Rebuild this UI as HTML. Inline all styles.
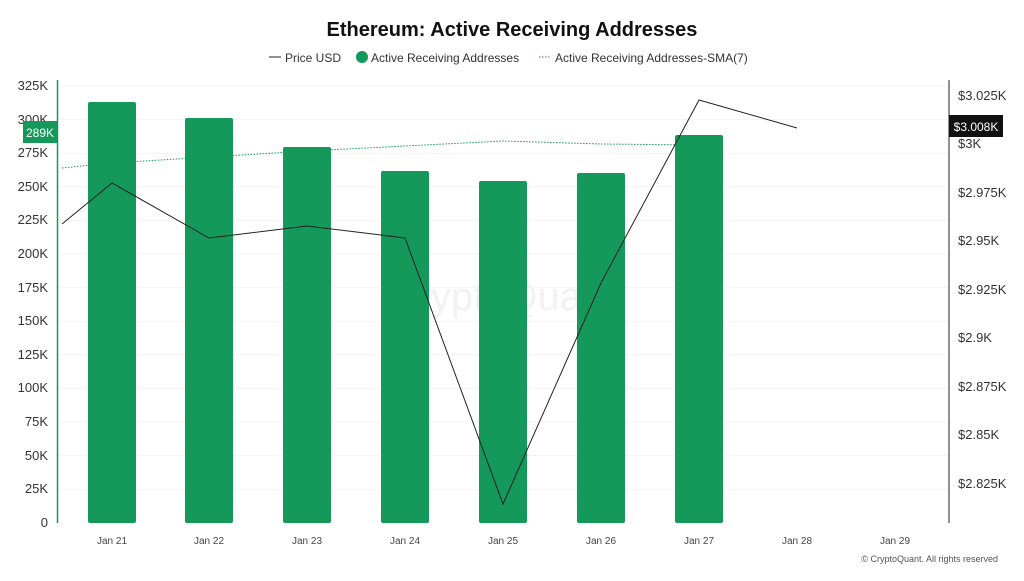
<!DOCTYPE html><html><head><style>body{margin:0;background:#fff;font-family:"Liberation Sans",sans-serif}</style></head><body>
<svg width="1024" height="576" xmlns="http://www.w3.org/2000/svg" font-family="Liberation Sans, sans-serif">
<rect width="1024" height="576" fill="#fff"/>
<text x="512" y="36" text-anchor="middle" font-size="20" font-weight="bold" fill="#111">Ethereum: Active Receiving Addresses</text>
<g font-size="12" fill="#333">
<line x1="269" y1="57" x2="281" y2="57" stroke="#222"/><text x="285" y="62">Price USD</text>
<circle cx="362" cy="57" r="6" fill="#14995b"/><text x="371" y="62">Active Receiving Addresses</text>
<line x1="539" y1="57" x2="551" y2="57" stroke="#14995b" stroke-dasharray="1.5,1.5"/><text x="555" y="62">Active Receiving Addresses-SMA(7)</text>
</g>
<g stroke="#f3f3f3">
<line x1="58" x2="948" y1="86" y2="86"/><line x1="58" x2="948" y1="119.6" y2="119.6"/><line x1="58" x2="948" y1="153.2" y2="153.2"/><line x1="58" x2="948" y1="186.8" y2="186.8"/><line x1="58" x2="948" y1="220.4" y2="220.4"/><line x1="58" x2="948" y1="254" y2="254"/><line x1="58" x2="948" y1="287.6" y2="287.6"/><line x1="58" x2="948" y1="321.2" y2="321.2"/><line x1="58" x2="948" y1="354.8" y2="354.8"/><line x1="58" x2="948" y1="388.4" y2="388.4"/><line x1="58" x2="948" y1="422" y2="422"/><line x1="58" x2="948" y1="455.6" y2="455.6"/><line x1="58" x2="948" y1="489.2" y2="489.2"/>
</g>
<text x="502" y="310" text-anchor="middle" font-size="40" fill="#f2f2f2">CryptoQuant</text>
<g font-size="13" fill="#333" text-anchor="end">
<text x="48" y="90">325K</text><text x="48" y="124">300K</text><text x="48" y="157">275K</text><text x="48" y="191">250K</text><text x="48" y="224">225K</text><text x="48" y="258">200K</text><text x="48" y="292">175K</text><text x="48" y="325">150K</text><text x="48" y="359">125K</text><text x="48" y="392">100K</text><text x="48" y="426">75K</text><text x="48" y="460">50K</text><text x="48" y="493">25K</text><text x="48" y="527">0</text>
</g>
<g font-size="13" fill="#333">
<text x="958" y="100">$3.025K</text><text x="958" y="148">$3K</text><text x="958" y="197">$2.975K</text><text x="958" y="245">$2.95K</text><text x="958" y="294">$2.925K</text><text x="958" y="342">$2.9K</text><text x="958" y="391">$2.875K</text><text x="958" y="439">$2.85K</text><text x="958" y="488">$2.825K</text>
</g>
<g fill="#14995b">
<rect x="88" y="102" width="48" height="421" rx="2"/><rect x="185" y="118" width="48" height="405" rx="2"/><rect x="283" y="147" width="48" height="376" rx="2"/><rect x="381" y="171" width="48" height="352" rx="2"/><rect x="479" y="181" width="48" height="342" rx="2"/><rect x="577" y="173" width="48" height="350" rx="2"/><rect x="675" y="135" width="48" height="388" rx="2"/>
</g>
<polyline fill="none" stroke="#14995b" stroke-width="1" stroke-dasharray="1.5,1.5" points="62,168 112,163 209,157 307,151 405,146 503,141 601,144 699,145"/>
<polyline fill="none" stroke="#222" stroke-width="1" points="62,224 112,183 209,238 307,226 405,238 503,504 601,283 699,100 797,128"/>
<line x1="57.5" y1="80" x2="57.5" y2="523" stroke="#14995b" stroke-width="1.5"/>
<line x1="949" y1="80" x2="949" y2="523" stroke="#222"/>
<rect x="23" y="121" width="35" height="22" fill="#14995b"/><text x="40" y="137" text-anchor="middle" font-size="12" fill="#fff">289K</text>
<rect x="949" y="115" width="54" height="22" fill="#111"/><text x="976" y="131" text-anchor="middle" font-size="12" fill="#fff">$3.008K</text>
<g font-size="10" fill="#444" text-anchor="middle">
<text x="112" y="544">Jan 21</text><text x="209" y="544">Jan 22</text><text x="307" y="544">Jan 23</text><text x="405" y="544">Jan 24</text><text x="503" y="544">Jan 25</text><text x="601" y="544">Jan 26</text><text x="699" y="544">Jan 27</text><text x="797" y="544">Jan 28</text><text x="895" y="544">Jan 29</text>
</g>
<text x="998" y="562" text-anchor="end" font-size="9" fill="#555">© CryptoQuant. All rights reserved</text>
</svg></body></html>
